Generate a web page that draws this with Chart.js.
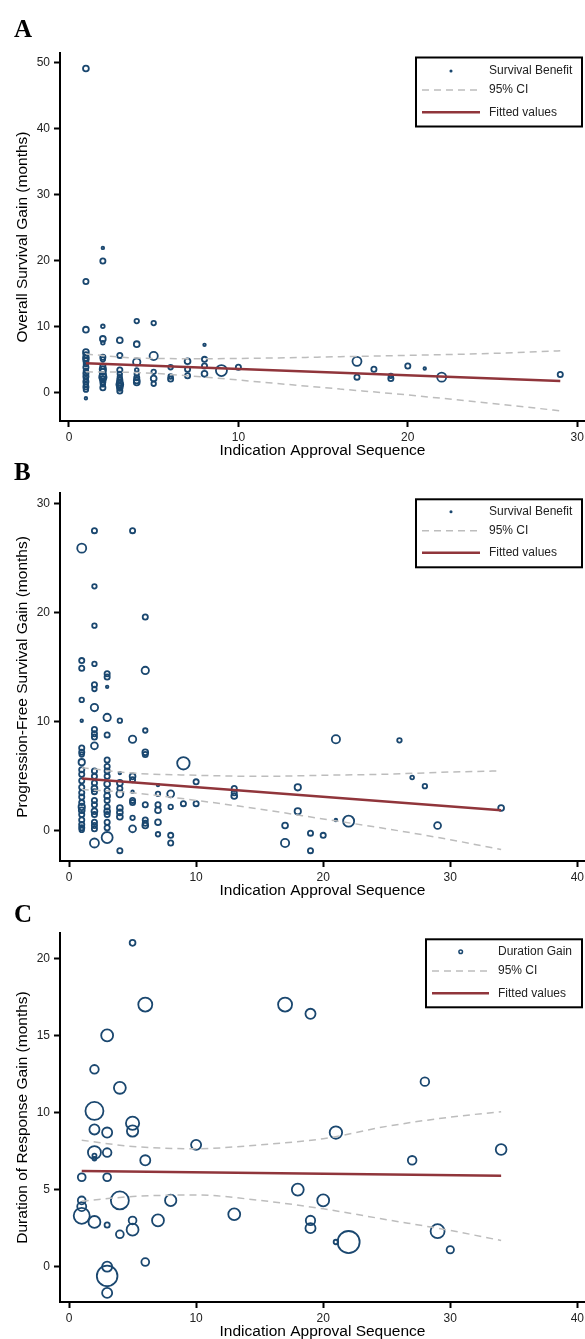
<!DOCTYPE html>
<html>
<head>
<meta charset="utf-8">
<script src="https://cdn.jsdelivr.net/npm/chart.js@4.4.1/dist/chart.umd.min.js"></script>
<style>
  html, body { margin: 0; padding: 0; background: #fff; }
  #page { position: relative; width: 585px; height: 1339px; overflow: hidden; }
  .panel { position: absolute; left: 0; width: 585px; }
  .tag { position: absolute; left: 14px; font: bold 25px "Liberation Serif", "Times New Roman", serif; line-height: 25px; color: #000; }
</style>
</head>
<body>
<div id="page">
  <div class="panel" style="top:0;height:462px"><canvas id="chartA"></canvas></div>
  <div class="panel" style="top:460px;height:442px"><canvas id="chartB"></canvas></div>
  <div class="panel" style="top:902px;height:440px"><canvas id="chartC"></canvas></div>
  <div class="tag" style="top:16px">A</div>
  <div class="tag" style="top:459px">B</div>
  <div class="tag" style="top:901px">C</div>
</div>
<script>
// ---- A: overall survival gain by approval sequence ----
const osSeq = [
  1, 1, 1, 1, 1, 1, 1, 1, 1, 1, 1, 1, 1, 1, 1, 1, 1, 1,
  2, 2, 2, 2, 2, 2, 2, 2, 2, 2, 2, 2, 2, 2, 2, 2,
  3, 3, 3, 3, 3, 3, 3, 3, 3, 3, 3,
  4, 4, 4, 4, 4, 4, 4, 4,
  5, 5, 5, 5, 5,
  6, 6, 6, 7, 7, 7, 8, 8, 8, 8, 9, 10,
  17, 17, 18, 19, 19, 20, 21, 22, 29
];
const osGain = [
  49.1, 16.8, 9.5, 6.1, 5.7, 5.2, 4.8, 4.3, 3.8, 3.3, 2.9, 2.4, 2.0, 1.6, 1.2, 0.8, 0.4, -0.9,
  21.9, 19.9, 10.0, 8.1, 7.5, 5.3, 5.0, 4.0, 3.5, 3.1, 2.6, 2.3, 2.0, 1.6, 1.2, 0.7,
  7.9, 5.6, 3.4, 2.8, 2.3, 1.9, 1.5, 1.2, 0.9, 0.6, 0.2,
  10.8, 7.3, 4.6, 3.4, 2.8, 2.2, 1.8, 1.5,
  10.5, 5.5, 3.1, 2.1, 1.3,
  3.8, 2.4, 2.0, 4.7, 3.5, 2.5, 7.2, 5.0, 4.0, 2.8, 3.3, 3.8,
  4.7, 2.3, 3.5, 2.5, 2.1, 4.0, 3.6, 2.3, 2.7
];
const osWeight = [
  5, 4, 5, 5, 4, 5, 4, 3, 4, 3, 4, 4, 3, 4, 3, 4, 3, 1,
  1, 4, 2, 5, 2, 4, 3, 4, 6, 5, 6, 8, 5, 4, 3, 4,
  5, 4, 4, 3, 3, 4, 5, 7, 5, 4, 4,
  3, 5, 8, 2, 3, 4, 5, 5,
  3, 10, 3, 5, 3,
  3, 3, 4, 5, 4, 4, 1, 4, 4, 5, 18, 4,
  12, 4, 4, 3, 4, 4, 1, 12, 4
];
const osFitSeq = [1, 29];
const osFit = [4.4, 1.7];
const osCiSeq = [1, 4, 8, 12, 16, 20, 25, 29];
const osCiUpper = [5.8, 5.2, 5.1, 5.2, 5.4, 5.6, 5.9, 6.3];
const osCiLower = [3.1, 3.0, 2.3, 1.4, 0.5, -0.4, -1.7, -2.8];
const osXTicks = [0, 10, 20, 30];
const osYTicks = [0, 10, 20, 30, 40, 50];

// ---- B: progression-free survival gain ----
const pfsSeq = [
  1, 1, 1, 1, 1, 1, 1, 1, 1, 1, 1, 1, 1, 1, 1, 1, 1, 1, 1, 1, 1, 1, 1,
  2, 2, 2, 2, 2, 2, 2, 2, 2, 2, 2, 2, 2, 2, 2, 2, 2, 2, 2, 2, 2, 2, 2, 2,
  3, 3, 3, 3, 3, 3, 3, 3, 3, 3, 3, 3, 3, 3, 3, 3, 3, 3, 3,
  4, 4, 4, 4, 4, 4, 4, 4, 4,
  5, 5, 5, 5, 5, 5, 5, 5, 5,
  6, 6, 6, 6, 6, 6, 6, 6, 6,
  7, 7, 7, 7, 7, 7,
  8, 8, 8, 8, 9, 9, 10, 10, 13, 13, 13,
  17, 17, 18, 18, 19, 19, 20, 21, 21, 22, 26, 27, 28, 29, 34
];
const pfsGain = [
  25.9, 15.6, 14.9, 12.0, 10.1, 7.6, 7.2, 7.0, 6.3, 5.6, 5.2, 4.6, 4.0, 3.5, 3.1, 2.6, 2.2, 1.9, 1.5, 1.0, 0.6, 0.3, 0.1,
  27.5, 22.4, 18.8, 15.3, 13.4, 13.0, 11.3, 9.3, 8.9, 8.6, 7.8, 5.5, 5.0, 4.4, 3.9, 3.6, 2.8, 2.4, 1.8, 1.5, 0.8, 0.5, 0.2, -1.1,
  14.4, 14.1, 13.2, 10.4, 8.8, 6.5, 5.9, 5.5, 5.0, 4.3, 3.7, 3.2, 2.8, 2.2, 1.8, 1.5, 0.8, 0.3, -0.6,
  10.1, 5.3, 4.4, 3.9, 3.4, 2.1, 1.7, 1.3, -1.8,
  27.5, 8.4, 5.0, 4.7, 3.6, 2.8, 2.6, 1.2, 0.2,
  19.6, 14.7, 9.2, 7.2, 7.0, 2.4, 1.0, 0.7, 0.5,
  4.2, 3.4, 2.4, 1.9, 0.8, -0.3,
  3.4, 2.2, -0.4, -1.1, 6.2, 2.5, 4.5, 2.5, 3.9, 3.5, 3.2,
  0.5, -1.1, 4.0, 1.8, -0.2, -1.8, -0.4, 8.4, 1.0, 0.9, 8.3, 4.9, 4.1, 0.5, 2.1
];
const pfsWeight = [
  12, 4, 4, 3, 1, 4, 4, 3, 6, 4, 4, 4, 4, 4, 4, 4, 6, 5, 4, 4, 4, 4, 3,
  4, 3, 3, 3, 4, 3, 8, 4, 4, 4, 7, 4, 4, 4, 5, 4, 4, 4, 5, 4, 4, 4, 4, 12,
  4, 4, 1, 8, 4, 4, 4, 4, 4, 5, 4, 5, 4, 4, 5, 4, 4, 4, 18,
  3, 1, 5, 4, 7, 5, 5, 5, 4,
  4, 8, 5, 4, 1, 4, 4, 3, 7,
  4, 8, 3, 5, 4, 4, 4, 4, 5,
  1, 3, 4, 5, 5, 3,
  7, 3, 4, 4, 23, 4, 4, 4, 4, 4, 5,
  5, 10, 6, 6, 4, 4, 4, 10, 1, 18, 3, 2, 3, 7, 5
];
const pfsFitSeq = [1, 34];
const pfsFit = [4.8, 1.9];
const pfsCiSeq = [1, 5, 10, 15, 20, 25, 30, 34];
const pfsCiUpper = [5.8, 5.3, 5.1, 5.0, 5.1, 5.2, 5.4, 5.5];
const pfsCiLower = [3.8, 3.5, 2.8, 2.0, 1.1, 0.2, -0.8, -1.7];
const seqTicks = [0, 10, 20, 30, 40];
const pfsYTicks = [0, 10, 20, 30];

// ---- C: duration of response gain ----
const dorSeq = [
  1, 1, 1, 1,
  2, 2, 2, 2, 2, 2, 2,
  3, 3, 3, 3, 3, 3, 3, 3,
  4, 4, 4,
  5, 5, 5, 5, 5,
  6, 6, 6, 7, 8, 10, 13, 17, 18,
  19, 19, 19, 20, 21, 21, 22, 27, 28, 29, 30, 34
];
const dorGain = [
  5.8, 4.3, 3.9, 3.3,
  12.8, 10.1, 8.9, 7.4, 7.2, 7.0, 2.9,
  15.0, 8.7, 7.4, 5.8, 2.7, 0.0, -0.6, -1.7,
  11.6, 4.3, 2.1,
  21.0, 9.3, 8.8, 3.0, 2.4,
  17.0, 6.9, 0.3, 3.0, 4.3, 7.9, 3.4, 17.0, 5.0,
  16.4, 3.0, 2.5, 4.3, 8.7, 1.6, 1.6, 6.9, 12.0, 2.3, 1.1, 7.6
];
const dorWeight = [
  9, 9, 12, 38,
  11, 48, 15, 25, 2.5, 2, 21,
  21, 15, 11, 9, 4, 15, 63, 15,
  21, 48, 9,
  5, 26, 19, 9, 21,
  29, 15, 9, 21, 19, 15, 21, 29, 21,
  15, 13, 15, 21, 23, 3, 72, 11, 11, 29, 8, 17
];
const dorFitSeq = [1, 34];
const dorFit = [6.2, 5.9];
const dorCiSeq = [1, 5, 10, 15, 20, 25, 30, 34];
const dorCiUpper = [8.2, 7.8, 7.65, 7.9, 8.3, 9.1, 9.7, 10.05];
const dorCiLower = [4.25, 4.55, 4.65, 4.3, 3.75, 3.05, 2.35, 1.7];
const dorYTicks = [0, 5, 10, 15, 20];

const NAVY = '#1a476f';
const MAROON = '#90353b';
const CI_GREY = '#bdbdbd';
const SANS = '"Liberation Sans", Arial, sans-serif';

Chart.defaults.font.family = SANS;

// marker area follows the study weight
const markerRadius = w => 1.3 * Math.sqrt(w);
const toXY = (xs, ys) => xs.map((x, i) => ({ x: x, y: ys[i] }));

// boxed legend drawn inside the plot, top right
const legendBox = {
  id: 'legendBox',
  afterDraw(chart, args, opts) {
    const ctx = chart.ctx;
    const b = opts.box;
    const sets = chart.data.datasets;
    ctx.save();
    ctx.lineWidth = 2;
    ctx.strokeStyle = '#000';
    ctx.strokeRect(b.left, b.top, b.right - b.left, b.bottom - b.top);
    ctx.font = '12px ' + SANS;
    ctx.fillStyle = '#222';
    ctx.textBaseline = 'middle';
    ctx.textAlign = 'left';
    opts.items.forEach((idx, i) => {
      const ds = sets[idx];
      const y = opts.rows[i];
      ctx.save();
      if (ds.type === 'bubble') {
        ctx.beginPath();
        ctx.arc(opts.symX, y, opts.markR, 0, Math.PI * 2);
        ctx.lineWidth = 1.5;
        ctx.strokeStyle = ds.borderColor;
        if (opts.markFill) { ctx.fillStyle = ds.borderColor; ctx.fill(); }
        ctx.stroke();
      } else {
        ctx.beginPath();
        ctx.setLineDash(ds.borderDash || []);
        ctx.lineWidth = ds.borderWidth;
        ctx.strokeStyle = ds.borderColor;
        ctx.moveTo(opts.symLeft, y);
        ctx.lineTo(opts.symRight, y);
        ctx.stroke();
      }
      ctx.restore();
      ctx.fillText(ds.label, opts.textX, y);
    });
    ctx.restore();
  }
};

function makeChart(id, p) {
  const points = p.seq.map((s, i) => ({ x: s, y: p.gain[i], r: markerRadius(p.weight[i]) }));
  const tickFont = { family: SANS, size: 12 };
  const titleFont = { family: SANS, size: 15.5 };
  const gridOpts = { display: true, drawOnChartArea: false, drawTicks: true, tickLength: 6, tickWidth: 2, tickColor: '#000', color: '#000' };
  return new Chart(document.getElementById(id), {
    type: 'bubble',
    plugins: [legendBox],
    data: {
      datasets: [
        { type: 'bubble', label: p.pointLabel, data: points, backgroundColor: 'rgba(0,0,0,0)',
          borderColor: NAVY, borderWidth: 1.8, order: 3 },
        { type: 'line', label: '95% CI', data: toXY(p.ciSeq, p.ciUpper), borderColor: CI_GREY,
          borderWidth: 1.5, borderDash: [7, 5], pointRadius: 0, fill: false,
          cubicInterpolationMode: 'monotone', order: 2 },
        { type: 'line', label: '95% CI', data: toXY(p.ciSeq, p.ciLower), borderColor: CI_GREY,
          borderWidth: 1.5, borderDash: [7, 5], pointRadius: 0, fill: false,
          cubicInterpolationMode: 'monotone', order: 2 },
        { type: 'line', label: 'Fitted values', data: toXY(p.fitSeq, p.fit), borderColor: MAROON,
          borderWidth: 2.5, pointRadius: 0, fill: false, order: 1 }
      ]
    },
    options: {
      responsive: true,
      maintainAspectRatio: false,
      animation: false,
      events: [],
      layout: { autoPadding: false, padding: { top: p.top, left: 0, right: 0, bottom: 0 } },
      scales: {
        x: {
          type: 'linear', min: p.xMin, max: p.xMax,
          afterBuildTicks: s => { s.ticks = p.xTicks.map(v => ({ value: v })); },
          afterFit: s => { s.height = p.xAxisH; s.paddingLeft = 0; s.paddingRight = 0; },
          border: { display: true, color: '#000', width: 2 },
          grid: gridOpts,
          ticks: { padding: 3, color: '#222', font: tickFont, autoSkip: false, maxRotation: 0 },
          title: { display: true, text: 'Indication Approval Sequence', color: '#000', font: titleFont,
                   padding: { top: 0, bottom: p.xTitlePad } }
        },
        y: {
          type: 'linear', min: p.yMin, max: p.yMax,
          afterBuildTicks: s => { s.ticks = p.yTicks.map(v => ({ value: v })); },
          afterFit: s => { s.width = 60; s.paddingTop = 0; s.paddingBottom = 0; },
          border: { display: true, color: '#000', width: 2 },
          grid: gridOpts,
          ticks: { padding: 4, color: '#222', font: tickFont },
          title: { display: true, text: p.yTitle, color: '#000', font: titleFont,
                   padding: { top: 13.7, bottom: 0 } }
        }
      },
      plugins: {
        legend: { display: false },
        tooltip: { enabled: false },
        legendBox: p.legend
      }
    }
  });
}

makeChart('chartA', {
  seq: osSeq, gain: osGain, weight: osWeight,
  fitSeq: osFitSeq, fit: osFit, ciSeq: osCiSeq, ciUpper: osCiUpper, ciLower: osCiLower,
  pointLabel: 'Survival Benefit', yTitle: 'Overall Survival Gain (months)',
  xMin: -0.53, xMax: 30.46, xTicks: osXTicks,
  yMin: -4.35, yMax: 51.45, yTicks: osYTicks,
  top: 53, xAxisH: 41, xTitlePad: 1.7,
  legend: { box: { left: 416, top: 57.5, right: 582, bottom: 126.5 }, items: [0, 1, 3],
            rows: [71, 90, 112.3], symX: 451, symLeft: 422, symRight: 480, textX: 489,
            markR: 0.8, markFill: true }
});

makeChart('chartB', {
  seq: pfsSeq, gain: pfsGain, weight: pfsWeight,
  fitSeq: pfsFitSeq, fit: pfsFit, ciSeq: pfsCiSeq, ciUpper: pfsCiUpper, ciLower: pfsCiLower,
  pointLabel: 'Survival Benefit', yTitle: 'Progression-Free Survival Gain (months)',
  xMin: -0.71, xMax: 40.6, xTicks: seqTicks,
  yMin: -2.75, yMax: 30.95, yTicks: pfsYTicks,
  top: 33, xAxisH: 41, xTitlePad: 1.7,
  legend: { box: { left: 416, top: 39.3, right: 582, bottom: 107.3 }, items: [0, 1, 3],
            rows: [51.7, 70.7, 92.7], symX: 451, symLeft: 422, symRight: 480, textX: 489,
            markR: 0.8, markFill: true }
});

makeChart('chartC', {
  seq: dorSeq, gain: dorGain, weight: dorWeight,
  fitSeq: dorFitSeq, fit: dorFit, ciSeq: dorCiSeq, ciUpper: dorCiUpper, ciLower: dorCiLower,
  pointLabel: 'Duration Gain', yTitle: 'Duration of Response Gain (months)',
  xMin: -0.71, xMax: 40.6, xTicks: seqTicks,
  yMin: -2.29, yMax: 21.64, yTicks: dorYTicks,
  top: 31, xAxisH: 40, xTitlePad: 1.0,
  legend: { box: { left: 426, top: 37.3, right: 582, bottom: 105.3 }, items: [0, 1, 3],
            rows: [49.7, 69, 91.3], symX: 460.7, symLeft: 432, symRight: 489, textX: 498,
            markR: 1.8, markFill: false }
});
</script>
</body>
</html>
